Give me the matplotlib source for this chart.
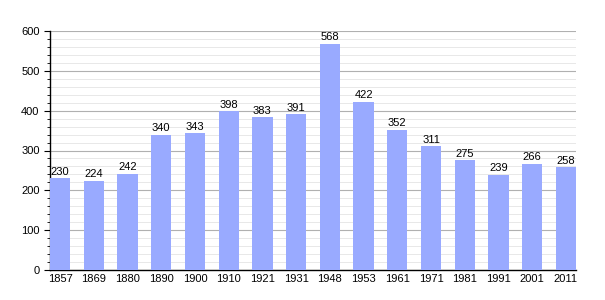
import matplotlib
matplotlib.use("Agg")
import matplotlib.pyplot as plt
from matplotlib.ticker import MultipleLocator

years = ["1857", "1869", "1880", "1890", "1900", "1910", "1921", "1931",
         "1948", "1953", "1961", "1971", "1981", "1991", "2001", "2011"]
population = [230, 224, 242, 340, 343, 398, 383, 391,
              568, 422, 352, 311, 275, 239, 266, 258]

plt.rcParams['font.family'] = ['Liberation Sans', 'DejaVu Sans']
fig = plt.figure(figsize=(6.05, 3.0), dpi=100)
ax = fig.add_axes([50/605, 30/300, 526/605, 239/300])

x = list(range(len(years)))
ax.bar(x, population, width=0.6, color='#99aaff', zorder=3)
for xi, v in zip(x, population):
    ax.text(xi, v + 4, str(v), ha='center', va='bottom', fontsize=8, color='black', zorder=4)

ax.set_xlim(-0.3, len(years) - 0.7)
ax.set_ylim(0, 600)
ax.set_xticks(x)
ax.set_xticklabels(years, fontsize=8)
ax.yaxis.set_major_locator(MultipleLocator(100))
ax.yaxis.set_minor_locator(MultipleLocator(20))
ax.tick_params(axis='y', which='major', labelsize=8, length=4, direction='out')
ax.tick_params(axis='y', which='minor', length=2.5, direction='out')
ax.tick_params(axis='x', length=0, pad=3)
ax.grid(axis='y', which='major', color='#b0b0b0', linewidth=0.8, zorder=0)
ax.grid(axis='y', which='minor', color='#e4e4e4', linewidth=0.6, zorder=0)
for s in ['top', 'right']:
    ax.spines[s].set_visible(False)
ax.spines['left'].set_linewidth(1.0)
ax.spines['bottom'].set_linewidth(1.0)

fig.savefig('out.png', dpi=100)
